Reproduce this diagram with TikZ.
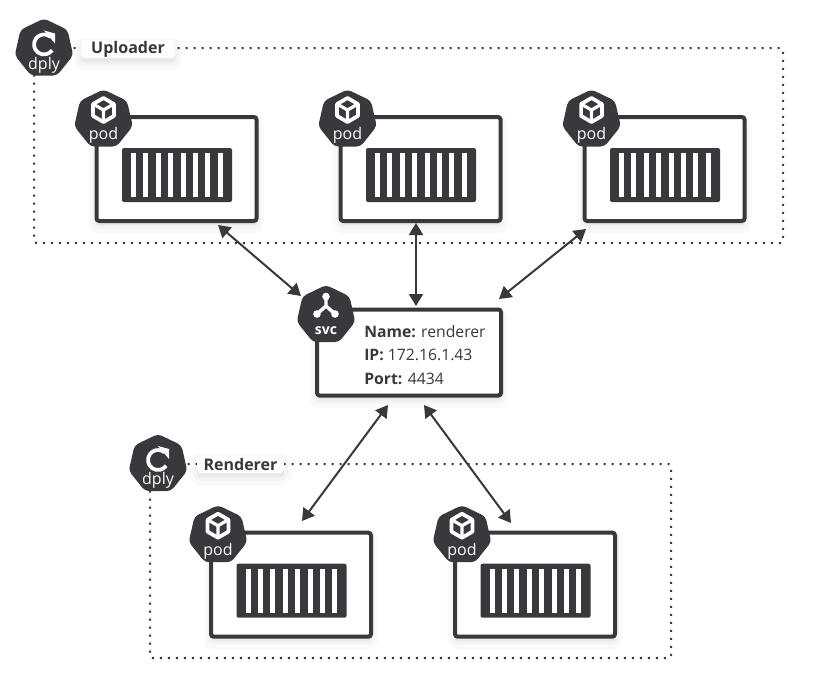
\documentclass[tikz,border=0pt]{standalone}
\usepackage{fontspec}
\setmainfont{Open Sans}
\usetikzlibrary{arrows.meta,shapes.geometric}
\definecolor{ink}{HTML}{38393D}
\tikzset{
  softshadow/.style={
    preaction={draw=black,fill=black,draw opacity=.02,fill opacity=.02,line width=11pt,transform canvas={yshift=-4pt}},
    preaction={draw=black,fill=black,draw opacity=.025,fill opacity=.025,line width=6pt,transform canvas={yshift=-3pt}}},
  hept/.style={regular polygon,regular polygon sides=7,minimum size=45pt,inner sep=0pt,fill=ink,rounded corners=3pt},
  heptlabel/.style={text=white,font=\fontsize{12}{12}\selectfont,inner sep=0pt},
  framebox/.style={draw=ink,fill=white,line width=3pt,rounded corners=2pt,inner sep=0pt,softshadow},
  cargo/.style={fill=ink,rounded corners=1.5pt,minimum width=82.5pt,minimum height=40.5pt,inner sep=0pt},
  slat/.style={fill=white},
  dotbox/.style={draw=ink,line width=1.5pt,dash pattern=on 1.5pt off 4.5pt,rounded corners=2pt},
  tag/.style={fill=white,rounded corners=3pt,inner sep=0pt,text=ink,font=\fontsize{12}{12}\selectfont\bfseries,softshadow},
  link/.style={draw=ink,line width=1.5pt,{Triangle[length=9pt,width=10.5pt]}-{Triangle[length=9pt,width=10.5pt]}},
  glyph/.style={draw=white,line width=2pt,line join=round},
}
\newcommand{\podunit}[3]{%
  \begin{scope}[shift={(#2,#3)}]
    \node[framebox,minimum width=120pt,minimum height=78pt] (#1box) at (80,52) {};
    \node[cargo] (#1cargo) at (80.5,58) {};
    \foreach \k in {0,...,7} \fill[slat] ({34.5+\k*12.4},36) rectangle ({39.5+\k*12.4},80);
    \node[hept] (#1hept) at (7,2.5) {};
    \begin{scope}[shift={(7,-7)}]
      \draw[glyph,line width=2.8pt] (90:12) -- (30:12) -- (-30:12) -- (-90:12) -- (-150:12) -- (150:12) -- cycle;
      \draw[glyph,line width=2.4pt] (-150:12) -- (0,0) -- (-30:12) (0,0) -- (90:12);
    \end{scope}
    \node[heptlabel] (#1text) at (7,18.5) {pod};
  \end{scope}}
\newcommand{\dplyunit}[3]{%
  \begin{scope}[shift={(#2,#3)}]
    \node[hept] (#1hept) at (0,0) {};
    \draw[glyph,line width=2.8pt] (0,-4) ++(35:10) arc[start angle=35,end angle=310,radius=10];
    \fill[white] (0,-18) -- (11,-15) -- (11,-5) -- cycle;
    \node[heptlabel] (#1text) at (0,16.5) {dply};
  \end{scope}}
\begin{document}
\begin{tikzpicture}[x=0.75pt,y=-0.75pt]
\useasboundingbox (0,0) rectangle (813,679);
\fill[white] (0,0) rectangle (813,679);
% Uploader group
\draw[dotbox] (34,48) rectangle (783,243);
\node[tag,minimum width=70.5pt,minimum height=13.5pt] (uploadertag) at (128,49) {Uploader};
\dplyunit{uploader}{44}{48.5}
\podunit{upa}{96.5}{117}
\podunit{upb}{340.5}{117}
\podunit{upc}{584.5}{117}
% Renderer group
\draw[dotbox] (150,464) rectangle (671,658);
\node[tag,minimum width=65pt,minimum height=13pt] (renderertag) at (240.5,464.5) {Renderer};
\dplyunit{renderer}{158}{464}
\podunit{rea}{211}{532.7}
\podunit{reb}{455}{532.7}
% Service
\node[framebox,minimum width=138pt,minimum height=64.5pt] (svcbox) at (409,352.5) {};
\node[anchor=west,align=left,inner sep=0pt,text=ink,font=\fontsize{11.8}{17.6}\selectfont] (svctext) at (364,355)
  {\textbf{Name:} renderer\\\textbf{IP:} 172.16.1.43\\\textbf{Port:} 4434};
\node[hept] (svchept) at (326,315) {};
\draw[glyph,line width=2.6pt] (326,296) -- (326,306) -- (317,314) (326,306) -- (335,314);
\fill[white] (326,296.5) circle (3.8) (317,314) circle (3.8) (335,314) circle (3.8);
\node[heptlabel,font=\fontsize{10.5}{11}\selectfont\bfseries] (svclabel) at (326,331) {svc};
% Connectors
\coordinate (a1) at (218,225);
\coordinate (a2) at (301,296);
\coordinate (b1) at (416,223);
\coordinate (b2) at (416,306);
\coordinate (c1) at (586,229);
\coordinate (c2) at (499,299);
\coordinate (d1) at (388,405);
\coordinate (d2) at (302,521);
\coordinate (e1) at (424,405);
\coordinate (e2) at (511,523);
\draw[link] (a1) -- (a2);
\draw[link] (b1) -- (b2);
\draw[link] (c1) -- (c2);
\draw[link] (d1) -- (d2);
\draw[link] (e1) -- (e2);
\end{tikzpicture}
\end{document}
